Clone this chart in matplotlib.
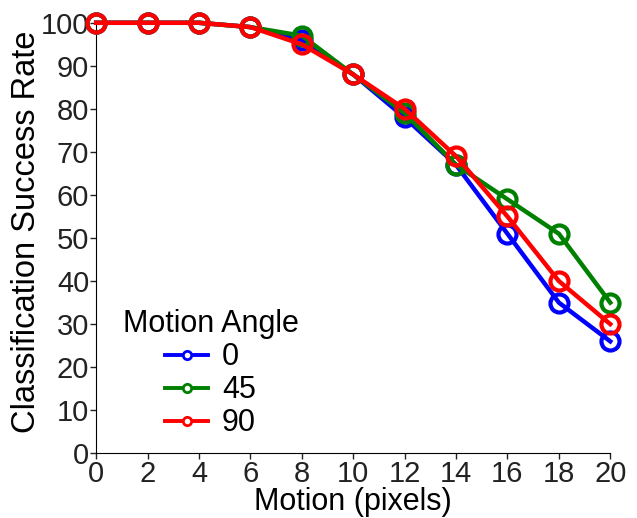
import numpy as np
import matplotlib.pyplot as plt

plt.rcParams['font.family'] = ['Liberation Sans', 'DejaVu Sans']

motion = [0, 2, 4, 6, 8, 10, 12, 14, 16, 18, 20]
angles = ['0', '45', '90']
rate_0 = [100, 100, 100, 99, 96, 88, 78, 67, 51, 35, 26]
rate_45 = [100, 100, 100, 99, 97, 88, 79, 67, 59, 51, 35]
rate_90 = [100, 100, 100, 99, 95, 88, 80, 69, 55, 40, 30]
colors = ['blue', 'green', 'red']

fig = plt.figure(figsize=(6.37, 5.18), dpi=100)
ax = fig.add_axes([0.151, 0.125, 0.807, 0.831])

for lab, vals, c in zip(angles, [rate_0, rate_45, rate_90], colors):
    ax.plot(motion, vals, color=c, lw=3.2, marker='o', ms=13, mfc='none',
            mew=3, label=lab, clip_on=False, zorder=3)

ax.set_xlim(0, 20)
ax.set_ylim(0, 100)
ax.set_xticks(np.arange(0, 21, 2))
ax.set_yticks(np.arange(0, 101, 10))
ax.spines['top'].set_visible(False)
ax.spines['right'].set_visible(False)
ax.tick_params(labelsize=21, length=4, width=1, pad=1, colors='#222222')
ax.set_xlabel('Motion (pixels)', fontsize=22, labelpad=-1)
ax.set_ylabel('Classification Success Rate', fontsize=23.5)
ax.yaxis.set_label_coords(-0.105, 0.515)

leg = ax.legend(title='Motion Angle', fontsize=22, title_fontsize=22,
                frameon=False, loc='lower left', bbox_to_anchor=(0.01, -0.015),
                handlelength=1.4, handletextpad=0.45,
                labelspacing=0.1, borderpad=0.2)
for h in leg.legend_handles:
    h.set_linewidth(2.8)
    h.set_markersize(6)
    h.set_markeredgewidth(2)
    h.set_markerfacecolor('white')

fig.savefig('out.png', dpi=100)
